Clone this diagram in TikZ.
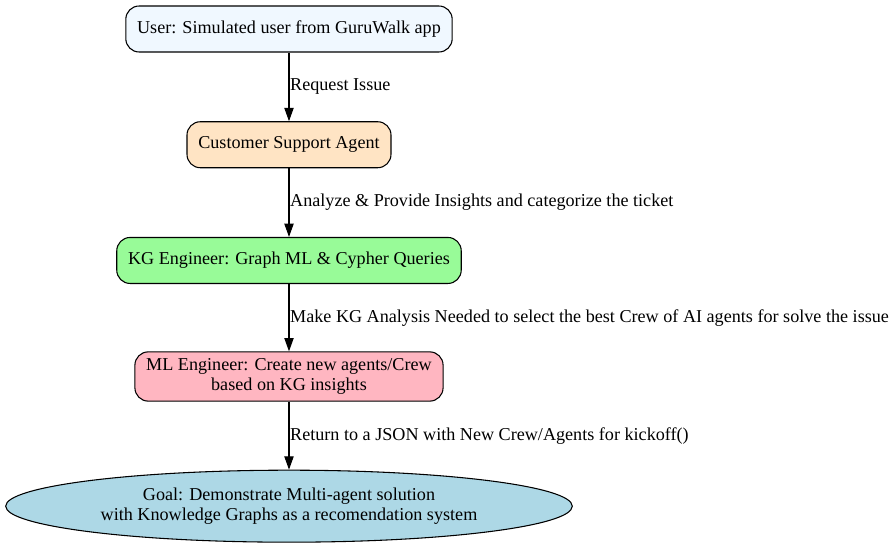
\documentclass[tikz,border=0pt]{standalone}
\usepackage{fontspec}
\setmainfont{Liberation Serif}
\usetikzlibrary{arrows.meta,positioning,shapes.geometric}

\definecolor{aliceblue}{HTML}{F0F8FF}
\definecolor{bisque}{HTML}{FFE4C4}
\definecolor{palegreen}{HTML}{98FB98}
\definecolor{lightpink}{HTML}{FFB6C1}
\definecolor{lightblue}{HTML}{ADD8E6}

\begin{document}
\begin{tikzpicture}[auto, node distance=51.5pt, thick,
                    >={Triangle[length=10pt,width=7pt]},
                    main node/.style={draw,rounded corners=10pt,align=center,
                      font=\fontsize{13.6pt}{15pt}\selectfont,
                      minimum height=34.5pt,inner xsep=8.5pt},
                    goal node/.style={draw,ellipse,align=center,
                      font=\fontsize{13.6pt}{15pt}\selectfont,
                      minimum width=425pt,minimum height=54pt}]

  \useasboundingbox (-216.75pt,21.75pt) rectangle (455.25pt,-390pt);

  \node[main node,fill=aliceblue] (user) at (0,0) {User: Simulated user from GuruWalk app};
  \node[main node,fill=bisque] (support) [below=of user] {Customer Support Agent};
  \node[main node,fill=palegreen] (kg) [below=of support] {KG Engineer: Graph ML \& Cypher Queries};
  \node[main node,fill=lightpink,inner ysep=5pt] (ml) [below=50.5pt of kg] {ML Engineer: Create new agents/Crew\\based on KG insights};
  \node[goal node,fill=lightblue] (goal) [below=51pt of ml] {Goal: Demonstrate Multi-agent solution\\with Knowledge Graphs as a recomendation system};

  \path[->,every node/.style={font=\fontsize{13.6pt}{15pt}\selectfont,inner xsep=0.5pt}]
    (user) edge node [right] {Request Issue} (support)
    (support) edge node [right] {Analyze \& Provide Insights and categorize the ticket} (kg)
    (kg) edge node [right] {Make KG Analysis Needed to select the best Crew of AI agents for solve the issue} (ml)
    (ml) edge node [right] {Return to a JSON with New Crew/Agents for kickoff()} (goal);
\end{tikzpicture}
\end{document}
